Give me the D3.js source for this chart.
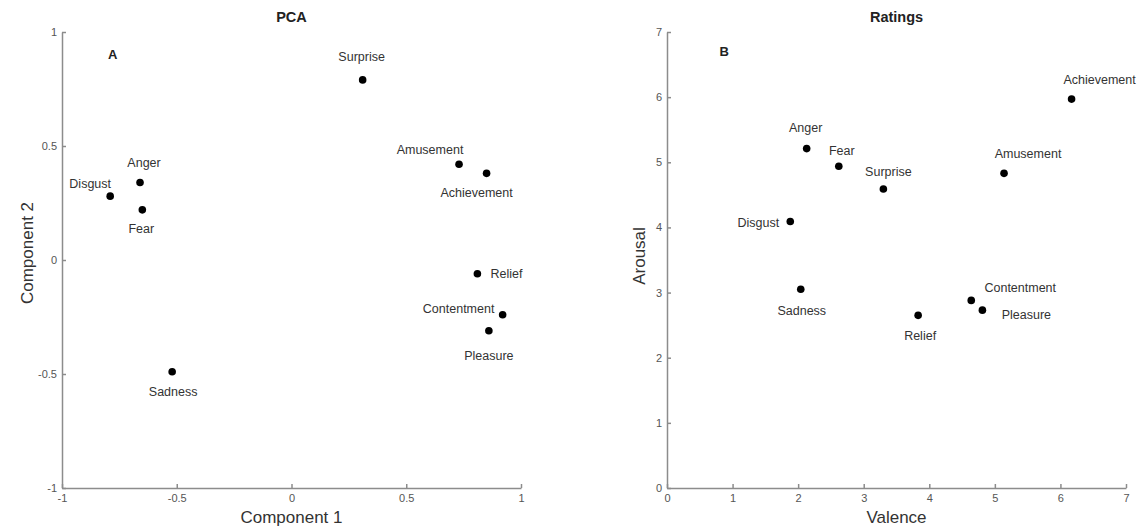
<!DOCTYPE html>
<html lang="en">
<head>
    <meta charset="UTF-8">
    <title>PCA and Ratings</title>
    <script src="https://cdn.jsdelivr.net/npm/d3@7"></script>
    <style>
        html, body {
            margin: 0;
            background: #fff;
            font-family: "Liberation Sans", Arial, sans-serif;
        }
        .axis path, .axis line { stroke: #8c8c8c; stroke-width: 1.5; }
        .axis text { fill: #555; font-size: 11px; font-family: "Liberation Sans", Arial, sans-serif; }
    </style>
</head>
<body>
<div id="vis"></div>
<script>
    // emotion categories (same order in both panels)
    var emotions = ["Disgust", "Anger", "Fear", "Surprise", "Amusement", "Achievement",
                    "Relief", "Contentment", "Pleasure", "Sadness"];

    // panel A: PCA scores
    var pcaComp1 = [-0.79, -0.66, -0.65, 0.31, 0.73, 0.85, 0.81, 0.92, 0.86, -0.52];
    var pcaComp2 = [0.28, 0.34, 0.22, 0.79, 0.42, 0.38, -0.06, -0.24, -0.31, -0.49];

    // panel B: mean ratings
    var valence = [1.88, 2.13, 2.62, 3.30, 5.14, 6.17, 3.83, 4.64, 4.81, 2.04];
    var arousal = [4.09, 5.21, 4.94, 4.59, 4.83, 5.97, 2.65, 2.88, 2.73, 3.05];

    // tick values
    var pcaTicks = [-1, -0.5, 0, 0.5, 1];
    var ratingTicks = [0, 1, 2, 3, 4, 5, 6, 7];

    // label placement relative to each point, in px [dx, dy]
    var pcaLabelOffsets = [[-20, -13], [4, -20], [-1, 19], [-1, -23], [-29, -15], [-10, 19],
                           [29, 0], [-44, -6], [0, 25], [1, 20]];
    var ratingLabelOffsets = [[-32, 1], [-1, -21], [3, -16], [5, -17], [24, -20], [28, -19],
                              [2, 20], [49, -13], [44, 4], [1, 21]];

    var W = 1144, H = 531;
    var svg = d3.select("#vis").append("svg")
        .attr("width", W)
        .attr("height", H);

    function panel(opts) {
        var x = d3.scaleLinear().domain(opts.xDomain).range(opts.xRange);
        var y = d3.scaleLinear().domain(opts.yDomain).range(opts.yRange);
        var g = svg.append("g");

        g.append("g")
            .attr("class", "axis")
            .attr("transform", "translate(0," + opts.yRange[0] + ")")
            .call(d3.axisBottom(x).tickValues(opts.ticksX).tickFormat(function(d) { return String(d); })
                .tickSizeInner(-4).tickSizeOuter(0).tickPadding(6));

        g.append("g")
            .attr("class", "axis")
            .attr("transform", "translate(" + opts.xRange[0] + ",0)")
            .call(d3.axisLeft(y).tickValues(opts.ticksY).tickFormat(function(d) { return String(d); })
                .tickSizeInner(-4).tickSizeOuter(0).tickPadding(5));

        var pts = opts.names.map(function(n, i) {
            return {name: n, x: opts.xs[i], y: opts.ys[i], off: opts.offsets[i]};
        });

        g.selectAll("circle.dot")
            .data(pts)
            .enter().append("circle")
            .attr("class", "dot")
            .attr("cx", function(d) { return x(d.x); })
            .attr("cy", function(d) { return y(d.y); })
            .attr("r", 3.8)
            .attr("fill", "#000");

        g.selectAll("text.lbl")
            .data(pts)
            .enter().append("text")
            .attr("class", "lbl")
            .attr("x", function(d) { return x(d.x) + d.off[0]; })
            .attr("y", function(d) { return y(d.y) + d.off[1]; })
            .attr("dy", "0.35em")
            .attr("text-anchor", "middle")
            .attr("font-size", "12.5px")
            .attr("fill", "#333")
            .text(function(d) { return d.name; });

        // title
        var xm = (opts.xRange[0] + opts.xRange[1]) / 2;
        g.append("text")
            .attr("x", xm)
            .attr("y", 22)
            .attr("text-anchor", "middle")
            .attr("font-size", "14.5px")
            .attr("font-weight", "bold")
            .attr("fill", "#222")
            .text(opts.title);

        // panel letter
        g.append("text")
            .attr("x", x(opts.letterPos[0]))
            .attr("y", y(opts.letterPos[1]))
            .attr("dy", "0.35em")
            .attr("font-size", "13px")
            .attr("font-weight", "bold")
            .attr("fill", "#222")
            .text(opts.letter);

        // axis labels
        g.append("text")
            .attr("x", xm)
            .attr("y", 523)
            .attr("text-anchor", "middle")
            .attr("font-size", "17px")
            .attr("fill", "#333")
            .text(opts.xLabel);

        g.append("text")
            .attr("transform", "translate(" + (opts.xRange[0] - opts.yLabelGap) + "," + opts.yLabelMid + ") rotate(-90)")
            .attr("text-anchor", "middle")
            .attr("font-size", "17px")
            .attr("fill", "#333")
            .text(opts.yLabel);
    }

    panel({
        names: emotions, xs: pcaComp1, ys: pcaComp2, offsets: pcaLabelOffsets,
        xDomain: [-1, 1], yDomain: [-1, 1], xRange: [62, 521], yRange: [488, 32],
        ticksX: pcaTicks, ticksY: pcaTicks,
        title: "PCA", letter: "A", letterPos: [-0.8, 0.9],
        xLabel: "Component 1", yLabel: "Component 2", yLabelGap: 29, yLabelMid: 253
    });

    panel({
        names: emotions, xs: valence, ys: arousal, offsets: ratingLabelOffsets,
        xDomain: [0, 7], yDomain: [0, 7], xRange: [667, 1126], yRange: [488, 32],
        ticksX: ratingTicks, ticksY: ratingTicks,
        title: "Ratings", letter: "B", letterPos: [0.8, 6.7],
        xLabel: "Valence", yLabel: "Arousal", yLabelGap: 22, yLabelMid: 256
    });
</script>
</body>
</html>
